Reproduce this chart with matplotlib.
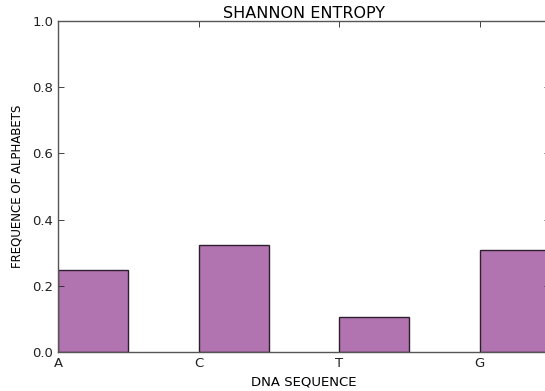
import matplotlib
matplotlib.use("Agg")
import matplotlib.pyplot as plt

bases = ["A", "C", "T", "G"]
freqs = [0.248, 0.324, 0.105, 0.309]
yticks = [0.0, 0.2, 0.4, 0.6, 0.8, 1.0]

W, H = 545, 391
fig = plt.figure(figsize=(W / 100, H / 100), dpi=100)
ax = fig.add_axes([58 / W, (H - 352) / H, 491.75 / W, 331 / H])

pos = list(range(len(bases)))
ax.bar(pos, freqs, width=0.5, align="edge", color="#b174b0",
       edgecolor="#2e1f2e", linewidth=1.0)

ax.set_xlim(0, 3.5)
ax.set_ylim(0, 1.0)
ax.set_xticks(pos)
ax.set_xticklabels(bases)
ax.set_yticks(yticks)
ax.set_yticklabels([f"{v:.1f}" for v in yticks])
ax.tick_params(direction="in", top=True, right=True, labelsize=9.5,
               colors="#222222", length=4, width=0.6)
for s in ax.spines.values():
    s.set_color("#555555")
    s.set_linewidth(1.0)

ax.set_title("SHANNON ENTROPY", fontsize=11.5, pad=2)
ax.set_xlabel("DNA SEQUENCE", fontsize=9.5, labelpad=4)
ax.set_ylabel("FREQUENCE OF ALPHABETS", fontsize=8.5, labelpad=6)

fig.savefig("out.png", dpi=100)
